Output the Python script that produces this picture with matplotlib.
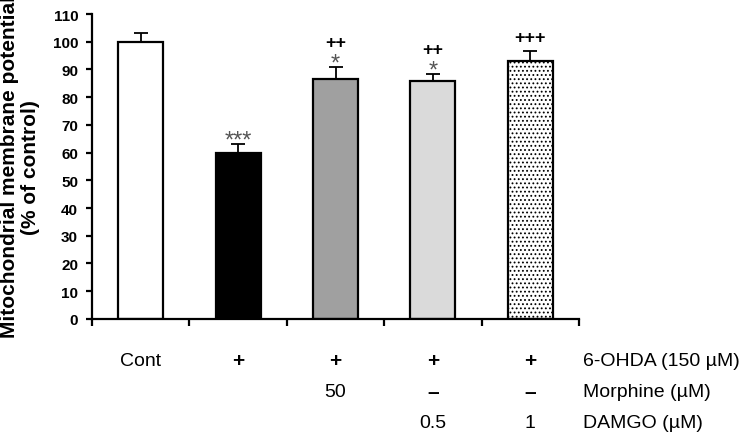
import matplotlib
matplotlib.use("Agg")
import matplotlib.pyplot as plt
import numpy as np

plt.rcParams["font.family"] = ["Liberation Sans", "DejaVu Sans"]
plt.rcParams["hatch.linewidth"] = 0.8

groups = ["Cont", "6-OHDA", "6-OHDA+Morphine", "6-OHDA+DAMGO 0.5", "6-OHDA+DAMGO 1"]
means = [100, 60, 86.5, 86, 93]
sems = [3, 3.2, 4.5, 2.5, 3.6]
stars = ["", "***", "*", "*", ""]
plus = ["", "", "++", "++", "+++"]

row_6ohda = ["Cont", "+", "+", "+", "+"]
row_morphine = ["", "", "50", "\u2013", "\u2013"]
row_damgo = ["", "", "", "0.5", "1"]
row_names = ["6-OHDA (150 \u00b5M)", "Morphine (\u00b5M)", "DAMGO (\u00b5M)"]

faces = ["white", "black", "#a0a0a0", "#dadada", "white"]
hatches = [None, None, None, None, "...."]

fig = plt.figure(figsize=(7.44, 4.35), dpi=100)
ax = fig.add_axes([0.1237, 0.2645, 0.6545, 0.701])

x = np.arange(len(groups))
bars = ax.bar(x, means, width=0.46, color=faces, edgecolor="black", linewidth=1.6,
              zorder=2)
for b, h in zip(bars, hatches):
    if h:
        b.set_hatch(h)
ax.errorbar(x, means, yerr=[np.zeros(len(sems)), sems], fmt="none", ecolor="black",
            elinewidth=1.3, capsize=5, capthick=1.3, zorder=1)

for i in range(len(groups)):
    top = means[i] + sems[i]
    if stars[i]:
        ax.text(x[i], top + 1.2, stars[i], ha="center", va="center", fontsize=17,
                color="#555555")
    if plus[i]:
        ax.text(x[i], top + 8.8 if stars[i] else top + 5.0, plus[i], ha="center",
                va="center", fontsize=13, fontweight="bold", color="black")

ax.set_xlim(-0.5, 4.5)
ax.set_ylim(0, 110)
ax.set_yticks(np.arange(0, 111, 10))
ax.set_xticks(np.arange(-0.5, 4.6, 1))
ax.set_xticklabels([])
ax.tick_params(axis="x", length=5, width=1.6, direction="out")
ax.tick_params(axis="y", length=4, width=1.6, direction="out", pad=6,
               labelsize=11)
for lbl in ax.get_yticklabels():
    lbl.set_fontweight("bold")
for s in ["top", "right"]:
    ax.spines[s].set_visible(False)
for s in ["left", "bottom"]:
    ax.spines[s].set_linewidth(1.6)

row_y = [-15.1, -26.3, -37.5]
for row, yy in zip([row_6ohda, row_morphine, row_damgo], row_y):
    for i, t in enumerate(row):
        if not t:
            continue
        bold = t in ("+", "\u2013")
        ax.text(x[i], yy, t, ha="center", va="center", fontsize=14 if not bold else 15,
                fontweight="bold" if bold else "normal", clip_on=False)
for name, yy in zip(row_names, row_y):
    ax.text(4.54, yy, name, ha="left", va="center", fontsize=14, clip_on=False)

fig.text(0.027, 0.615, "Mitochondrial membrane potential\n(% of control)",
         rotation=90, ha="center", va="center", fontsize=15, fontweight="bold",
         multialignment="center", linespacing=1.1)

fig.savefig("out.png", dpi=100)
